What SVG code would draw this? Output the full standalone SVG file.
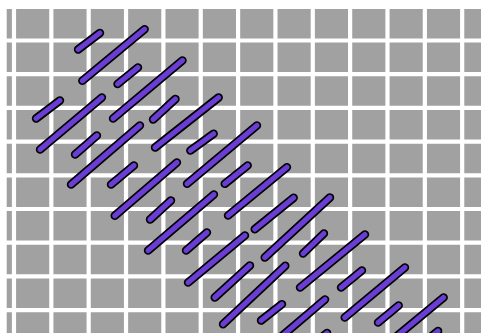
<svg xmlns="http://www.w3.org/2000/svg" width="481" height="333" viewBox="0 0 481 333">
<style>
.grid-bg{fill:#a1a1a1}
.grid-lines{stroke:#ffffff;stroke-width:4.2;fill:none}
.outline{stroke:#000000;stroke-width:8.6;stroke-linecap:round;fill:none}
.core{stroke:#6a3dd4;stroke-width:5.1;stroke-linecap:round;fill:none}
</style>
<defs>
<path id="st" d="M78.1,49.5 L99.9,33 M82.4,80.8 L144.6,29.2 M117.6,84 L137.9,67.5 M113.1,118.5 L182.4,60.5 M153.1,119.5 L175.4,99 M155.1,147.5 L218.6,97.5 M190.4,150.5 L213.6,133.8 M187.1,183.8 L256.9,125.5 M224.8,183.8 L247.6,165.5 M228.1,215.5 L286.9,167.2 M254.8,229.2 L293.6,197.8 M264.8,257.5 L329.9,197.5 M303.1,253.5 L323.9,233.5 M300.1,287.5 L364.9,234.5 M341.1,287.5 L361.9,270.5 M344.8,317.5 L404.9,267.5 M378.1,322.5 L398.6,305.5 M374,355 L443.6,297.5 M416,349 L438,331 M36.1,118.5 L59.9,100.5 M40.1,149.5 L101.9,97.5 M75.1,154.5 L96.9,135.5 M71.1,184.5 L139.9,125.5 M111.1,184.5 L133.9,165.5 M114.8,215.8 L176.9,162.5 M150.1,219.5 L170.9,200.5 M148.1,250.5 L213.9,194.5 M186.1,250.5 L206.9,232.5 M188.1,282.5 L244.9,235.5 M214.8,297.5 L249.9,265.5 M223.1,324.2 L285.2,265.8 M261.1,320.5 L281.9,304.2 M262,353 L325,299.5 M305,351 L327,333"/>
</defs>
<rect width="481" height="333" fill="#ffffff"/>
<g id="grid">
<rect class="grid-bg" x="6.7" y="9" width="474.3" height="324"/>
<path class="grid-lines" d="M13.98,0V333 M51.33,0V333 M88.68,0V333 M126.03,0V333 M163.38,0V333 M200.73,0V333 M238.08,0V333 M275.43,0V333 M312.78,0V333 M350.13,0V333 M387.48,0V333 M424.83,0V333 M462.18,0V333 M0,40.5H481 M0,74.2H481 M0,107.9H481 M0,141.6H481 M0,175.3H481 M0,209H481 M0,242.7H481 M0,276.4H481 M0,310.1H481"/>
</g>
<g id="stitches">
<use href="#st" class="outline"/>
<use href="#st" class="core"/>
</g>
</svg>
